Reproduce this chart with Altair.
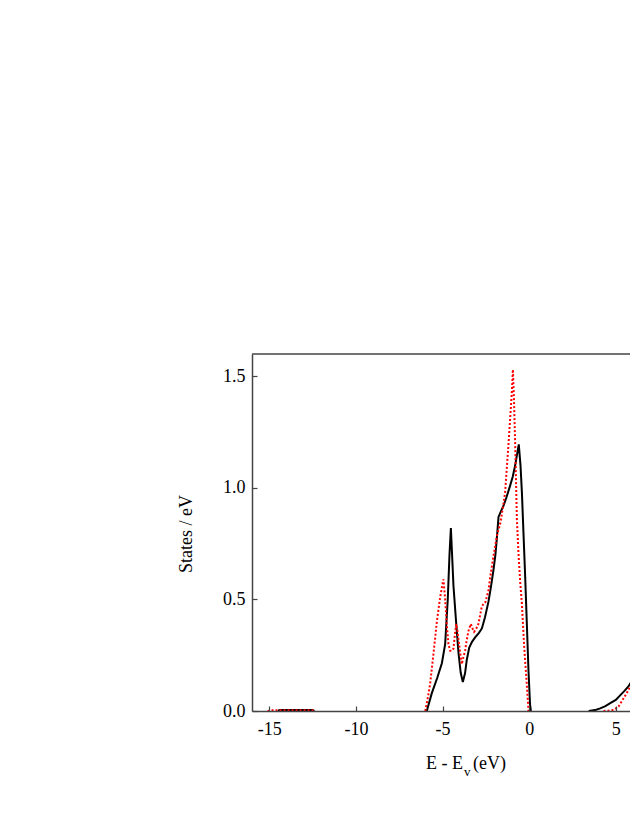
import altair as alt
import pandas as pd

# ---------------- data ----------------
x_ticks = [-15, -10, -5, 0, 5]
y_ticks = [0.0, 0.5, 1.0, 1.5]

# solid black curve (three separate pieces)
black_core_x = [-14.5, -14.4, -12.5, -12.4]
black_core_y = [0.0, 0.004, 0.004, 0.0]

black_vb_x = [-6.0, -5.91, -5.62, -5.3, -5.04, -4.85, -4.7, -4.6, -4.52, -4.45, -4.37,
              -4.2, -4.08, -3.95, -3.83, -3.7, -3.6, -3.46, -3.3, -3.12, -2.9, -2.73,
              -2.55, -2.35, -2.2, -2.06, -1.95, -1.87, -1.77, -1.6, -1.48, -1.3, -1.1,
              -0.95, -0.81, -0.7, -0.6, -0.5, -0.42, -0.33, -0.23, -0.13, -0.04, 0.05, 0.1]
black_vb_y = [0.0, 0.0, 0.08, 0.15, 0.214, 0.30, 0.50, 0.70, 0.82, 0.70, 0.56,
              0.38, 0.26, 0.17, 0.13, 0.17, 0.23, 0.284, 0.31, 0.33, 0.35, 0.37,
              0.42, 0.49, 0.56, 0.633, 0.70, 0.77, 0.87, 0.90, 0.92, 0.96, 1.01,
              1.05, 1.10, 1.15, 1.195, 1.10, 0.98, 0.80, 0.60, 0.38, 0.18, 0.03, 0.0]

black_cb_x = [3.43, 3.8, 4.1, 4.4, 4.68, 5.0, 5.25, 5.5, 5.73, 5.93, 6.05, 6.15, 6.3]
black_cb_y = [0.0, 0.004, 0.012, 0.022, 0.035, 0.05, 0.07, 0.09, 0.11, 0.135, 0.15, 0.155, 0.15]

# dotted red curve (three separate pieces)
red_core_x = [-15.1, -14.9, -12.5, -12.4]
red_core_y = [0.0, 0.003, 0.003, 0.0]

red_vb_x = [-6.0, -5.85, -5.72, -5.52, -5.33, -5.14, -4.95, -4.85, -4.75, -4.66, -4.56,
            -4.45, -4.37, -4.28, -4.21, -4.14, -4.08, -3.98, -3.89, -3.8, -3.7, -3.6,
            -3.5, -3.37, -3.27, -3.18, -3.05, -2.93, -2.83, -2.73, -2.62, -2.54, -2.45,
            -2.35, -2.25, -2.15, -2.05, -1.96, -1.85, -1.67, -1.5, -1.39, -1.19, -1.0,
            -0.94, -0.88, -0.81, -0.71, -0.62, -0.52, -0.42, -0.29, -0.13, -0.04]
red_vb_y = [0.0, 0.06, 0.12, 0.26, 0.40, 0.51, 0.59, 0.50, 0.38, 0.30, 0.27,
            0.27, 0.28, 0.35, 0.39, 0.36, 0.32, 0.26, 0.21, 0.24, 0.27, 0.32,
            0.36, 0.39, 0.37, 0.355, 0.37, 0.39, 0.43, 0.47, 0.48, 0.485, 0.51,
            0.54, 0.60, 0.65, 0.70, 0.74, 0.79, 0.84, 0.92, 0.98, 1.20, 1.43,
            1.53, 1.40, 1.20, 0.86, 0.71, 0.58, 0.48, 0.29, 0.11, 0.0]

red_cb_x = [4.29, 4.6, 4.87, 5.16, 5.45, 5.73, 6.02, 6.15, 6.3]
red_cb_y = [0.0, 0.002, 0.005, 0.02, 0.057, 0.094, 0.139, 0.15, 0.15]


def frame(xs, ys, seg):
    return pd.DataFrame({"x": xs, "y": ys, "seg": seg})


black_df = pd.concat([
    frame(black_core_x, black_core_y, "core"),
    frame(black_vb_x, black_vb_y, "vb"),
    frame(black_cb_x, black_cb_y, "cb"),
], ignore_index=True)
red_df = pd.concat([
    frame(red_core_x, red_core_y, "core"),
    frame(red_vb_x, red_vb_y, "vb"),
    frame(red_cb_x, red_cb_y, "cb"),
], ignore_index=True)

# ---------------- styling ----------------
FONT = "Liberation Serif"
W, H = 378, 357
AXIS_COLOR = "#444444"

xscale = alt.Scale(domain=[-16, 5.82], nice=False, zero=False)
yscale = alt.Scale(domain=[0, 1.6], nice=False, zero=False)

xaxis = alt.Axis(values=x_ticks, title=None, grid=False,
                 labelExpr="'' + datum.value",
                 tickSize={"expr": "-5"}, labelPadding=14,
                 domainColor=AXIS_COLOR, domainWidth=1.5,
                 tickColor=AXIS_COLOR, tickWidth=1.2,
                 labelFont=FONT, labelFontSize=18, labelColor="black",
                 labelFlush=False, zindex=1)
yaxis = alt.Axis(values=y_ticks, title=None, grid=False,
                 labelExpr="format(datum.value, '.1f')",
                 tickSize={"expr": "-5"}, labelPadding=12,
                 domainColor=AXIS_COLOR, domainWidth=1.5,
                 tickColor=AXIS_COLOR, tickWidth=1.2,
                 labelFont=FONT, labelFontSize=18, labelColor="black",
                 zindex=1)

black = alt.Chart(black_df).mark_line(color="black", strokeWidth=2, clip=True).encode(
    x=alt.X("x:Q", scale=xscale, axis=xaxis),
    y=alt.Y("y:Q", scale=yscale, axis=yaxis),
    detail="seg:N",
)
red = alt.Chart(red_df).mark_line(color="#ff0000", strokeWidth=2, strokeDash=[2, 2],
                                  clip=True).encode(
    x=alt.X("x:Q", scale=xscale),
    y=alt.Y("y:Q", scale=yscale),
    detail="seg:N",
)

dummy = pd.DataFrame({"a": [0]})
top_line = alt.Chart(dummy).mark_rule(color=AXIS_COLOR, strokeWidth=1.5).encode(
    x=alt.value(0), x2=alt.value(W), y=alt.value(0)
)

ytitle = alt.Chart(dummy).mark_text(
    text="States / eV", font=FONT, fontSize=18, color="black",
    angle=270, align="center", baseline="alphabetic"
).encode(x=alt.value(-60), y=alt.value(180))

xt1 = alt.Chart(dummy).mark_text(
    text="E - E", font=FONT, fontSize=18, color="black",
    align="right", baseline="alphabetic"
).encode(x=alt.value(211), y=alt.value(415))
xt2 = alt.Chart(dummy).mark_text(
    text="v", font=FONT, fontSize=13, color="black",
    align="left", baseline="alphabetic"
).encode(x=alt.value(212), y=alt.value(422))
xt3 = alt.Chart(dummy).mark_text(
    text="(eV)", font=FONT, fontSize=18, color="black",
    align="left", baseline="alphabetic"
).encode(x=alt.value(221), y=alt.value(415))

chart = alt.layer(black, red, top_line, ytitle, xt1, xt2, xt3).properties(
    width=W, height=H,
    autosize=alt.AutoSizeParams(type="none"),
    padding={"left": 244, "top": 346, "right": 0, "bottom": 100},
    background="white",
).configure_view(stroke=None)

chart.save("out.html", embed_options={"renderer": "svg", "actions": False})
